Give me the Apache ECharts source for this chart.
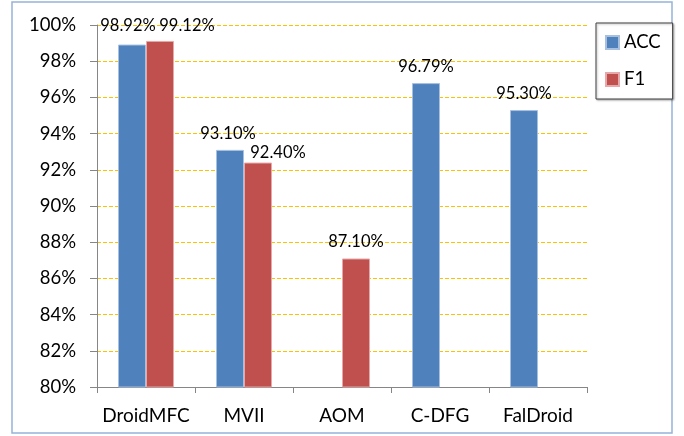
<!DOCTYPE html>
<html>
<head>
<meta charset="utf-8">
<script src="https://cdn.jsdelivr.net/npm/echarts@6/dist/echarts.min.js"></script>
<style>
  html, body { margin: 0; padding: 0; background: #fff; }
  #chart { width: 684px; height: 436px; }
</style>
</head>
<body>
<div id="chart"></div>
<script>
// 数据
const categories = ['DroidMFC', 'MVII', 'AOM', 'C-DFG', 'FalDroid']
const accValues = [98.92, 93.10, null, 96.79, 95.30]
const f1Values = [99.12, 92.40, 87.10, null, null]
const yTicks = { min: 80, max: 100, interval: 2 }

// 标签避让偏移（仿照原图中标签被挪开的位置）
const accLabelOffset = [[-4, -2], [-2, 0], [0, 0], [0, 0], [0, 0]]
const f1LabelOffset = [[27, 1], [20, 7], [0, 0], [0, 0], [0, 0]]

const chart = echarts.init(document.getElementById('chart'))

const labelStyle = {
  show: true,
  position: 'top',
  distance: 8,
  fontFamily: 'Lato',
  fontSize: 16.5,
  color: '#000',
  formatter: (p) => p.value.toFixed(2) + '%'
}

const toItems = (values, offsets) => values.map((v, i) => (
  v == null ? null : { value: v, label: { offset: offsets[i] } }
))

const options = {
  animation: false,
  // 外框
  graphic: [{
    type: 'rect',
    shape: { x: 12, y: 2, width: 660, height: 431 },
    style: { fill: 'none', stroke: '#95B3D7', lineWidth: 1.5 },
    silent: true
  }],
  legend: {
    orient: 'vertical',
    left: 596,
    top: 23,
    width: 69,
    padding: [10, 12, 10, 9],
    itemGap: 18,
    itemWidth: 13,
    itemHeight: 13,
    icon: 'rect',
    borderColor: '#404040',
    borderWidth: 1,
    shadowColor: 'rgba(0,0,0,0.3)',
    shadowBlur: 2,
    shadowOffsetX: 1,
    shadowOffsetY: 1,
    backgroundColor: '#fff',
    textStyle: { fontFamily: 'Lato', fontSize: 18.5, color: '#000' },
    data: ['ACC', 'F1']
  },
  grid: { left: 97, right: 97, top: 25, bottom: 49, containLabel: false },
  xAxis: {
    type: 'category',
    data: categories,
    axisLine: { lineStyle: { color: '#868686' } },
    axisTick: { show: true, length: 6, lineStyle: { color: '#868686' } },
    axisLabel: { interval: 0, fontFamily: 'Lato', fontSize: 19, color: '#000', margin: 19 }
  },
  yAxis: {
    type: 'value',
    min: yTicks.min,
    max: yTicks.max,
    interval: yTicks.interval,
    axisLine: { show: true, lineStyle: { color: '#868686' } },
    axisTick: { show: true, length: 7, lineStyle: { color: '#868686' } },
    axisLabel: {
      fontFamily: 'Lato', fontSize: 18.5, color: '#000', margin: 21,
      formatter: (v) => v + '%'
    },
    splitLine: { lineStyle: { color: '#FFC000', type: [4, 2], width: 1 } }
  },
  series: [
    {
      name: 'ACC',
      type: 'bar',
      data: toItems(accValues, accLabelOffset),
      barWidth: 28,
      barGap: '0%',
      itemStyle: { color: '#4F81BD', borderColor: '#A7C0E0', borderWidth: 1 },
      label: labelStyle
    },
    {
      name: 'F1',
      type: 'bar',
      data: toItems(f1Values, f1LabelOffset),
      barWidth: 28,
      barGap: '0%',
      itemStyle: { color: '#C0504D', borderColor: '#E6A8A8', borderWidth: 1 },
      label: labelStyle
    }
  ]
}

chart.setOption(options)
</script>
</body>
</html>
